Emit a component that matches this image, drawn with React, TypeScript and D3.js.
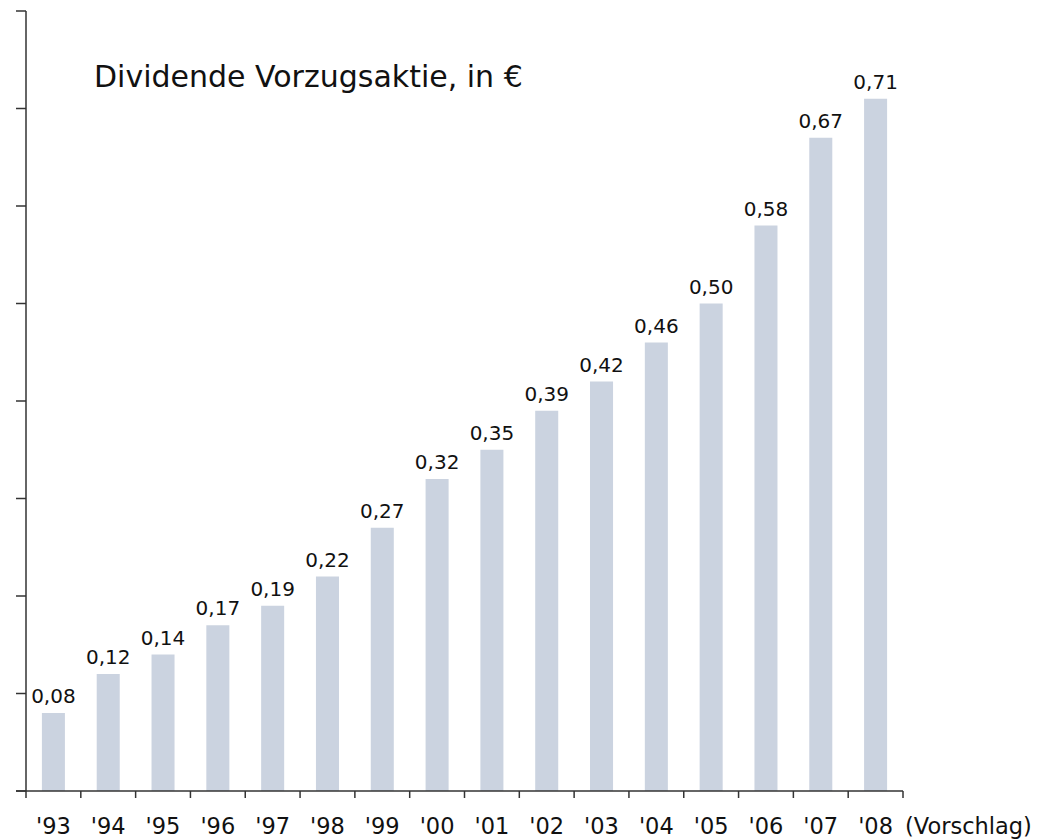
import React from "react";
import * as d3 from "d3";

const categories = ["'93", "'94", "'95", "'96", "'97", "'98", "'99", "'00", "'01", "'02", "'03", "'04", "'05", "'06", "'07", "'08"];
const values = [0.08, 0.12, 0.14, 0.17, 0.19, 0.22, 0.27, 0.32, 0.35, 0.39, 0.42, 0.46, 0.5, 0.58, 0.67, 0.71];
const yTicks = [0, 0.1, 0.2, 0.3, 0.4, 0.5, 0.6, 0.7, 0.8];
const title = "Dividende Vorzugsaktie, in €";
const suffix = "(Vorschlag)";

const fmt = (v: number) => v.toFixed(2).replace(".", ",");

export default function App() {
  const W = 1054, H = 840;
  const x0 = 26, x1 = 903, yTop = 11, yBase = 791;
  const x = d3.scaleBand<string>().domain(categories).range([x0, x1]).paddingInner(0.58).paddingOuter(0.29);
  const xb = d3.scaleBand<string>().domain(categories).range([x0, x1]);
  const y = d3.scaleLinear().domain([0, 0.8]).range([yBase, yTop]);
  const font = "DejaVu Sans, Verdana, sans-serif";
  return (
    <svg width={W} height={H} style={{ position: "absolute", left: 0, top: 0, background: "#fff" }} fontFamily={font}>
      {categories.map((c, i) => (
        <rect key={c} x={x(c)} y={y(values[i])} width={x.bandwidth()} height={yBase - y(values[i])} fill="#cbd3e0" />
      ))}
      <line x1={x0} x2={x0} y1={yTop} y2={yBase} stroke="#333" strokeWidth={1.5} />
      {yTicks.map((t) => (
        <line key={t} x1={x0 - 10} x2={x0} y1={y(t)} y2={y(t)} stroke="#333" strokeWidth={1.5} />
      ))}
      <line x1={x0 - 10} x2={x1} y1={yBase} y2={yBase} stroke="#333" strokeWidth={1.5} />
      {categories.map((c) => (
        <line key={"t" + c} x1={xb(c)} x2={xb(c)} y1={yBase} y2={yBase + 7} stroke="#333" strokeWidth={1.5} />
      ))}
      <line x1={x1} x2={x1} y1={yBase} y2={yBase + 7} stroke="#333" strokeWidth={1.5} />
      {categories.map((c) => (
        <text key={"l" + c} x={(xb(c) as number) + xb.bandwidth() / 2} y={834} textAnchor="middle" fontSize={22.5} fill="#111">{c}</text>
      ))}
      <text x={x1 + 2} y={834} fontSize={22.5} fill="#111">{suffix}</text>
      {categories.map((c, i) => (
        <text key={"v" + c} x={(x(c) as number) + x.bandwidth() / 2} y={y(values[i]) - 10} textAnchor="middle" fontSize={20} fill="#111">{fmt(values[i])}</text>
      ))}
      <text x={94} y={87} fontSize={30} fill="#111">{title}</text>
    </svg>
  );
}
